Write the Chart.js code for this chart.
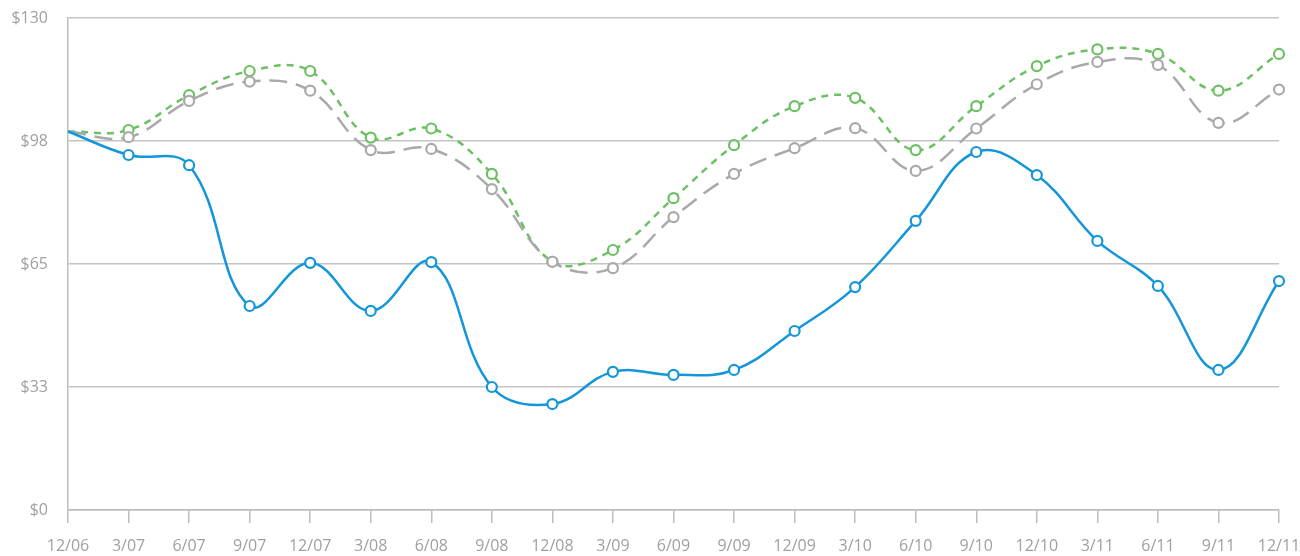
<!DOCTYPE html>
<html><head><meta charset="utf-8">
<script src="https://cdn.jsdelivr.net/npm/chart.js@4"></script>
<style>html,body{margin:0;padding:0;background:#fff}#c{display:block}</style>
</head><body>
<canvas id="c" width="1300" height="556"></canvas>
<script>
const categories = ['12/06','3/07','6/07','9/07','12/07','3/08','6/08','9/08','12/08','3/09','6/09','9/09','12/09','3/10','6/10','9/10','12/10','3/11','6/11','9/11','12/11'];
const blueSeries = [100,93.8,91.1,53.9,65.3,52.6,65.5,32.5,28.0,36.5,35.7,37.0,47.3,58.9,76.4,94.6,88.5,71.1,59.2,37.0,60.5];
const graySeries = [100,98.5,108.1,113.2,110.8,95.1,95.4,84.8,65.6,63.9,77.4,88.8,95.6,100.9,89.6,100.8,112.5,118.4,117.6,102.3,111.1];
const greenSeries = [100,100.4,109.6,116.0,116.0,98.4,100.8,88.8,65.6,68.7,82.4,96.4,106.7,108.9,95.1,106.7,117.3,121.7,120.5,110.8,120.5];
const yTickValues = [0,32.5,65,97.5,130];
const yTickLabels = ['$0','$33','$65','$98','$130'];

const pr = c => c.dataIndex === 0 ? 0 : 5;
function ds(data, color, dash, width){
  return {data, borderColor: color, borderWidth: width, borderDash: dash, tension: 0.4,
    pointRadius: pr, pointHoverRadius: pr, pointBackgroundColor: '#fff', pointBorderColor: color, pointBorderWidth: 2.2, fill:false};
}
new Chart(document.getElementById('c'), {
  type: 'line',
  data: { labels: categories, datasets: [
    ds(blueSeries, '#1496d8', [], 2.5),
    ds(graySeries, '#a9a9ab', [18,9], 2.5),
    ds(greenSeries, '#6cc063', [7,6], 2.5)
  ]},
  options: {
    responsive: false, animation: false,
    layout: { padding: { top: 18, right: 21, left: 0, bottom: 0 } },
    plugins: { legend: { display: false }, tooltip: { enabled: false } },
    scales: {
      x: { offset: false,
        afterFit: s => { s.height = 46; s.paddingLeft = 0; s.paddingRight = 0; },
        grid: { display: true, drawOnChartArea: false, drawTicks: true, tickLength: 13, color: '#bdbdbd', lineWidth: 1.5 },
        border: { display: true, color: '#bdbdbd', width: 1.5 },
        ticks: { color: '#a0a0a0', font: { family: 'Open Sans', size: 16 }, padding: 14, maxRotation: 0, autoSkip: false }
      },
      y: { min: 0, max: 130,
        afterBuildTicks: s => { s.ticks = yTickValues.map(v => ({value: v})); },
        afterFit: s => { s.width = 68; s.paddingTop = 0; s.paddingBottom = 0; },
        grid: { color: '#c4c4c4', lineWidth: 1.5, drawTicks: false },
        border: { display: true, color: '#bdbdbd', width: 1.5 },
        ticks: { color: '#a0a0a0', font: { family: 'Open Sans', size: 16 }, padding: 20,
          callback: (v, i) => yTickLabels[i] }
      }
    }
  }
});
</script>
</body></html>
